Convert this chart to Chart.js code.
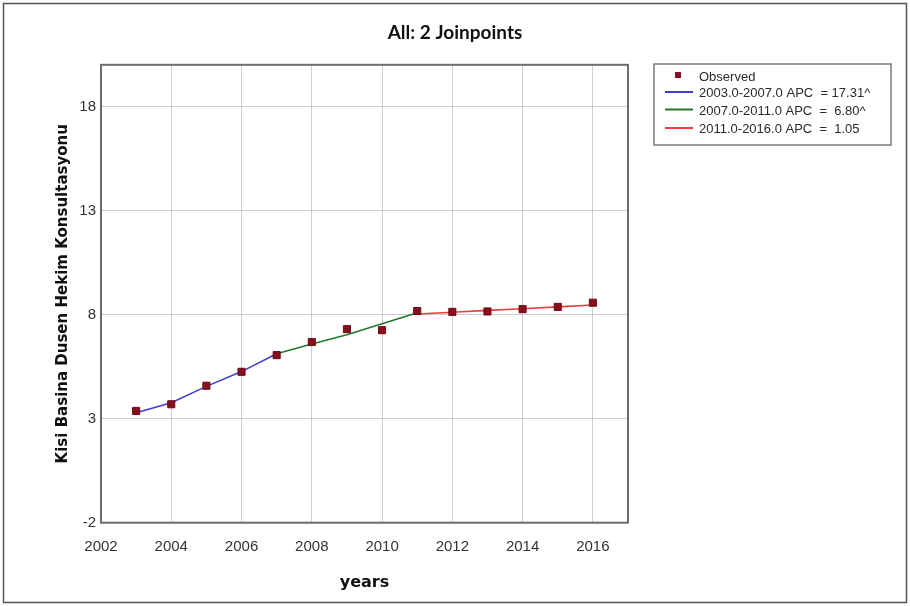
<!DOCTYPE html>
<html>
<head>
<meta charset="utf-8">
<script src="https://cdn.jsdelivr.net/npm/chart.js@4.4.1/dist/chart.umd.min.js"></script>
<style>
  html, body { margin: 0; padding: 0; background: #ffffff; }
  #wrap { width: 910px; height: 606px; }
</style>
</head>
<body>
<div id="wrap"><canvas id="chart" width="910" height="606"></canvas></div>
<script>
// Observed values per year
const years = [2003, 2004, 2005, 2006, 2007, 2008, 2009, 2010, 2011, 2012, 2013, 2014, 2015, 2016];
const observed = [3.37, 3.69, 4.58, 5.25, 6.05, 6.68, 7.30, 7.25, 8.17, 8.13, 8.15, 8.26, 8.37, 8.57];

// Fitted joinpoint segments
const seg1Years = [2003, 2004, 2005, 2006, 2007];
const seg1Fit = [3.28, 3.76, 4.55, 5.26, 6.12];
const seg2Years = [2007, 2008, 2009, 2010, 2011];
const seg2Fit = [6.12, 6.59, 7.03, 7.56, 8.09];
const seg3Years = [2011, 2012, 2013, 2014, 2015, 2016];
const seg3Fit = [8.03, 8.11, 8.20, 8.28, 8.37, 8.46];

// Labels
const seriesLabels = [
  'Observed',
  '2003.0-2007.0 APC  = 17.31^',
  '2007.0-2011.0 APC  =  6.80^',
  '2011.0-2016.0 APC  =  1.05'
];
const xTicks = [2002, 2004, 2006, 2008, 2010, 2012, 2014, 2016];
const yTicks = [-2, 3, 8, 13, 18];

const pts = (xs, ys) => xs.map((x, i) => ({ x: x, y: ys[i] }));

const markerColor = '#8a0f1e';
const lineColors = ['#4040d0', '#23772e', '#f03c3c'];

// Page frame, plot frame and the key box
const framePlugin = {
  id: 'frames',
  beforeDraw(chart) {
    const ctx = chart.ctx;
    ctx.save();
    ctx.fillStyle = '#ffffff';
    ctx.fillRect(0, 0, chart.width, chart.height);
    ctx.strokeStyle = '#555555';
    ctx.lineWidth = 1.5;
    ctx.strokeRect(3.5, 3.5, chart.width - 7, chart.height - 7);
    ctx.restore();
  },
  beforeDatasetsDraw(chart) {
    const { ctx, chartArea: a } = chart;
    ctx.save();
    ctx.strokeStyle = '#6c6c6c';
    ctx.lineWidth = 2;
    ctx.strokeRect(a.left, a.top, a.right - a.left, a.bottom - a.top);
    ctx.restore();
  },
  afterDraw(chart) {
    const ctx = chart.ctx;
    const bx = 654, by = 64, bw = 237, bh = 81;
    ctx.save();
    ctx.strokeStyle = '#7a7a7a';
    ctx.lineWidth = 1.5;
    ctx.strokeRect(bx, by, bw, bh);
    ctx.font = '13px "Liberation Sans", Arial, sans-serif';
    ctx.textBaseline = 'middle';
    ctx.textAlign = 'left';
    const rows = [77, 93.5, 111, 129];
    // observed marker
    ctx.fillStyle = markerColor;
    ctx.fillRect(675, 72, 6, 6);
    ctx.fillStyle = '#2a2a2a';
    ctx.fillText(seriesLabels[0], 699, rows[0]);
    const lineRows = [92, 109.5, 128];
    for (let i = 0; i < 3; i++) {
      ctx.strokeStyle = lineColors[i];
      ctx.lineWidth = 2;
      ctx.beginPath();
      ctx.moveTo(665, lineRows[i]);
      ctx.lineTo(693, lineRows[i]);
      ctx.stroke();
      ctx.fillText(seriesLabels[i + 1], 699, rows[i + 1]);
    }
    ctx.restore();
  }
};

const tickFont = { family: '"Liberation Sans", Arial, sans-serif', size: 15 };
const gridColor = '#cdcdcd';

new Chart(document.getElementById('chart'), {
  type: 'scatter',
  data: {
    datasets: [
      {
        label: seriesLabels[0],
        data: pts(years, observed),
        showLine: false,
        pointStyle: 'rect',
        pointRadius: 5,
        backgroundColor: markerColor,
        borderColor: '#6a0a16',
        borderWidth: 1,
        order: 0
      },
      {
        label: seriesLabels[1],
        data: pts(seg1Years, seg1Fit),
        showLine: true,
        borderColor: lineColors[0],
        borderWidth: 1.6,
        pointRadius: 0,
        order: 1
      },
      {
        label: seriesLabels[2],
        data: pts(seg2Years, seg2Fit),
        showLine: true,
        borderColor: lineColors[1],
        borderWidth: 1.6,
        pointRadius: 0,
        order: 1
      },
      {
        label: seriesLabels[3],
        data: pts(seg3Years, seg3Fit),
        showLine: true,
        borderColor: lineColors[2],
        borderWidth: 1.6,
        pointRadius: 0,
        order: 1
      }
    ]
  },
  options: {
    responsive: false,
    animation: false,
    layout: { padding: 0 },
    plugins: {
      legend: { display: false },
      tooltip: { enabled: false },
      title: {
        display: true,
        text: 'All: 2 Joinpoints',
        color: '#111111',
        font: { family: 'Lato, "Liberation Sans", sans-serif', size: 19, weight: 'bold' },
        padding: { top: 21, bottom: 21 }
      }
    },
    scales: {
      x: {
        type: 'linear',
        position: 'bottom',
        min: 2002,
        max: 2017,
        afterBuildTicks: (s) => { s.ticks = xTicks.map(v => ({ value: v })); },
        afterFit: (s) => { s.height = 83.3; },
        ticks: {
          color: '#333333',
          font: tickFont,
          padding: 15,
          maxRotation: 0,
          callback: (v) => String(v)
        },
        grid: { color: gridColor, lineWidth: 1, drawTicks: false },
        border: { display: false },
        title: {
          display: true,
          text: 'years',
          color: '#111111',
          font: { family: '"DejaVu Sans", Verdana, sans-serif', size: 16, weight: 'bold' },
          padding: { top: 0, bottom: 14 }
        }
      },
      y: {
        type: 'linear',
        position: 'left',
        min: -2,
        max: 20,
        afterBuildTicks: (s) => { s.ticks = yTicks.map(v => ({ value: v })); },
        afterFit: (s) => { s.width = 101; },
        ticks: {
          color: '#333333',
          font: tickFont,
          padding: 5,
          callback: (v) => String(v)
        },
        grid: { color: gridColor, lineWidth: 1, drawTicks: false },
        border: { display: false },
        title: {
          display: true,
          text: 'Kisi Basina Dusen Hekim Konsultasyonu',
          color: '#111111',
          font: { family: '"DejaVu Sans", Verdana, sans-serif', size: 15, weight: 'bold' },
          padding: { top: 54, bottom: 0 }
        }
      },
      keySpace: {
        type: 'linear',
        position: 'right',
        display: true,
        afterFit: (s) => { s.width = 282; },
        ticks: { display: false },
        grid: { display: false, drawTicks: false },
        border: { display: false }
      }
    }
  },
  plugins: [framePlugin]
});
</script>
</body>
</html>
